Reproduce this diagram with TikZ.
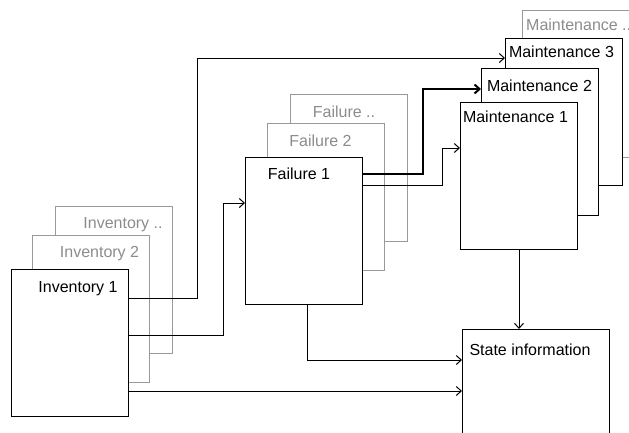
\documentclass[tikz,border=0pt]{standalone}
\usepackage{fontspec}
\setmainfont{Liberation Sans}
\usetikzlibrary{arrows.meta}

\begin{document}
\begin{tikzpicture}[x=1pt, y=-1pt, >={Straight Barb[length=5pt,width=9pt]},
		every node/.style={font=\fontsize{16}{19}\selectfont},
		card/.style={draw, fill=white, line width=1pt, minimum width=117pt, minimum height=147pt, anchor=north west, inner sep=0pt},
		fadedcard/.style={card, draw=black!40},
		lbl/.style={anchor=base, inner sep=0pt},
		fadedlbl/.style={lbl, text=black!45},
		flow/.style={->, line width=1pt},
		boldflow/.style={flow, line width=2pt}]
		\clip (0,0) rectangle (629,432);
		% inventory stack
		\node[fadedcard] (inv3) at (55,206) {};
		\node[fadedlbl] (inv3-txt) at (123,228.5) {Inventory ..};
		\node[fadedcard] (inv2) at (32,235) {};
		\node[fadedlbl] (inv2-txt) at (99.5,257.5) {Inventory 2};
		\node[card] (inv1) at (11,269) {};
		\node[lbl] (inv1-txt) at (78,292) {Inventory 1};
		% failure stack
		\node[fadedcard] (f3) at (290,94) {};
		\node[fadedlbl] (f3-txt) at (344,117.5) {Failure ..};
		\node[fadedcard] (f2) at (267,123) {};
		\node[fadedlbl] (f2-txt) at (320.5,146.5) {Failure 2};
		\node[card] (f1) at (245,157) {};
		\node[lbl] (f1-txt) at (299,179.5) {Failure 1};
		% maintenance stack
		\node[fadedcard] (m4) at (522,10) {};
		\node[fadedlbl, anchor=base west] (m4-txt) at (526,30.5) {Maintenance ..};
		\node[card] (m3) at (505,38) {};
		\node[lbl] (m3-txt) at (561.5,57.5) {Maintenance 3};
		\node[card] (m2) at (481,68) {};
		\node[lbl] (m2-txt) at (539.5,91.5) {Maintenance 2};
		\node[card] (m1) at (460,102) {};
		\node[lbl] (m1-txt) at (515.5,122.5) {Maintenance 1};
		% state
		\node[card, minimum width=147pt] (state) at (462,329) {};
		\node[lbl] (state-txt) at (530,355.5) {State information};
		% connectors
		\draw[flow] ([yshift=-29pt]inv1.north east) -- ++(68,0) |- ([yshift=-20pt]m3.north west);
		\draw[flow] ([yshift=-66pt]inv1.north east) -- ++(94,0) |- ([yshift=-46pt]f1.north west);
		\draw[flow] ([yshift=-122pt]inv1.north east) coordinate (i3) -- (i3 -| state.west);
		\draw[boldflow] ([yshift=-17pt]f1.north east) -- ++(60,0) |- ([yshift=-21pt]m2.north west);
		\draw[flow] ([yshift=-28pt]f1.north east) -- ++(79,0) |- ([yshift=-46pt]m1.north west);
		\draw[flow] ([xshift=3pt]f1.south) |- ([yshift=-31pt]state.north west);
		\draw[flow] (m1.south) -- (m1.south |- state.north);
	\end{tikzpicture}
\end{document}
